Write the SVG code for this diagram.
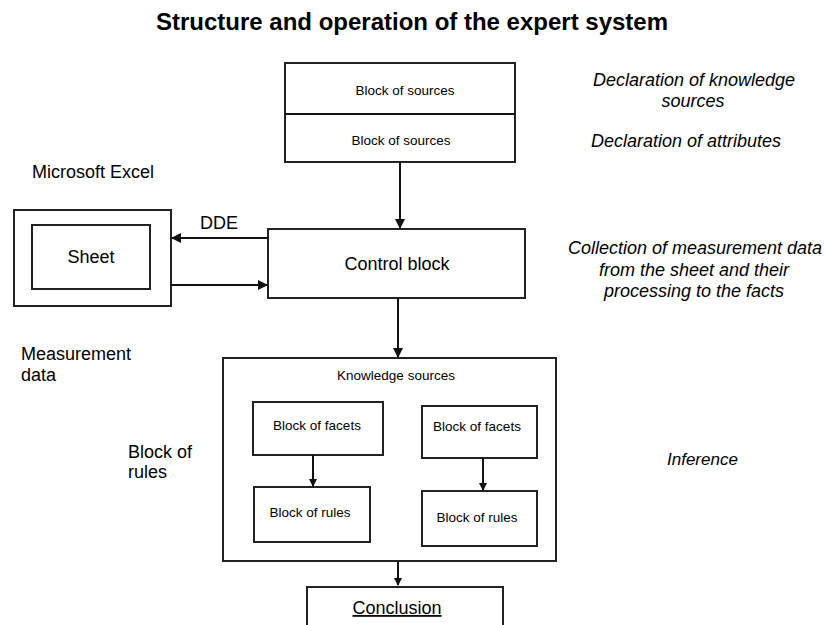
<svg xmlns="http://www.w3.org/2000/svg" width="825" height="625" viewBox="0 0 825 625">
<style>
text{font-family:"Liberation Sans",Arial,sans-serif;fill:#000}
.b{fill:#fff;stroke:#222;stroke-width:2}
.s12{font-size:13.5px}
.s16{font-size:18px}
.it{font-size:18px;font-style:italic}
.m{text-anchor:middle}
.ln{stroke:#111;stroke-width:2;fill:none}
</style>
<defs>
<marker id="ah" markerWidth="10" markerHeight="10" refX="9" refY="5" orient="auto" markerUnits="userSpaceOnUse">
<path d="M0,0 L10,5 L0,10 z" fill="#111"/>
</marker>
<marker id="as" markerWidth="8" markerHeight="8" refX="7" refY="4" orient="auto" markerUnits="userSpaceOnUse">
<path d="M0,0 L8,4 L0,8 z" fill="#111"/>
</marker>
</defs>
<text x="412" y="30" class="m" style="font-size:24px;font-weight:bold">Structure and operation of the expert system</text>

<g id="sources">
<rect class="b" x="285" y="63" width="230" height="99"/>
<line class="ln" x1="285" y1="114" x2="515" y2="114"/>
<text x="405" y="95" class="s12 m">Block of sources</text>
<text x="401" y="145" class="s12 m">Block of sources</text>
</g>

<g id="excel">
<rect class="b" x="14" y="210" width="157" height="96"/>
<rect class="b" x="32" y="225" width="118" height="64"/>
<text x="91" y="263" class="s16 m">Sheet</text>
</g>

<g id="control">
<rect class="b" x="268" y="229" width="257" height="69"/>
<text x="397" y="270" class="s16 m">Control block</text>
</g>

<g id="knowledge">
<rect class="b" x="223" y="358" width="333" height="203"/>
<text x="396" y="380" class="s12 m">Knowledge sources</text>
</g>

<g id="facets1">
<rect class="b" x="253" y="402" width="130" height="53"/>
<text x="317" y="430" class="s12 m">Block of facets</text>
</g>
<g id="rules1">
<rect class="b" x="254" y="487" width="116" height="55"/>
<text x="310" y="517" class="s12 m">Block of rules</text>
</g>
<g id="facets2">
<rect class="b" x="422" y="406" width="115" height="52"/>
<text x="477" y="431" class="s12 m">Block of facets</text>
</g>
<g id="rules2">
<rect class="b" x="422" y="491" width="115" height="55"/>
<text x="477" y="522" class="s12 m">Block of rules</text>
</g>

<g id="conclusion">
<rect class="b" x="307" y="587" width="196" height="45"/>
<text x="397" y="614" class="s16 m" text-decoration="underline">Conclusion</text>
</g>

<g id="connectors">
<line class="ln" x1="400" y1="163" x2="400" y2="228" marker-end="url(#ah)"/>
<line class="ln" x1="268" y1="238" x2="172" y2="238" marker-end="url(#ah)"/>
<line class="ln" x1="171" y1="285" x2="267" y2="285" marker-end="url(#ah)"/>
<line class="ln" x1="398" y1="298" x2="398" y2="357" marker-end="url(#ah)"/>
<line class="ln" x1="313" y1="455" x2="313" y2="486" marker-end="url(#as)"/>
<line class="ln" x1="483" y1="458" x2="483" y2="490" marker-end="url(#as)"/>
<line class="ln" x1="398" y1="562" x2="398" y2="585" marker-end="url(#as)"/>
</g>

<g id="labels">
<text x="200" y="229" class="s16">DDE</text>
<text x="32" y="178" class="s16">Microsoft Excel</text>
<text x="21" y="360" class="s16">Measurement</text>
<text x="21" y="381" class="s16">data</text>
<text x="128" y="458" class="s16">Block of</text>
<text x="128" y="478" class="s16">rules</text>
<text x="694" y="86" class="it m">Declaration of knowledge</text>
<text x="693" y="107" class="it m">sources</text>
<text x="686" y="147" class="it m">Declaration of attributes</text>
<text x="695" y="254" class="it m">Collection of measurement data</text>
<text x="694" y="276" class="it m">from the sheet and their</text>
<text x="694" y="297" class="it m">processing to the facts</text>
<text x="667" y="465" class="it" style="font-size:17px">Inference</text>
</g>
</svg>
